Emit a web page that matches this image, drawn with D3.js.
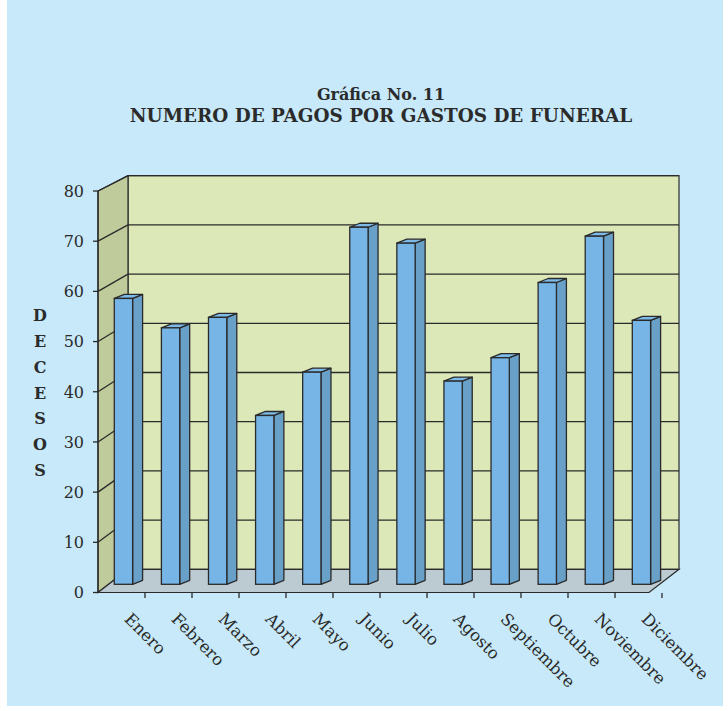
<!DOCTYPE html>
<html>
<head>
<meta charset="utf-8">
<script src="https://d3js.org/d3.v7.min.js"></script>
<style>
  body { margin: 0; background: #ffffff; }
  text { font-family: "DejaVu Serif", serif; fill: #2b2b2b; }
</style>
</head>
<body>
<script>
// datos de la grafica
var meses = ["Enero", "Febrero", "Marzo", "Abril", "Mayo", "Junio",
             "Julio", "Agosto", "Septiembre", "Octubre", "Noviembre", "Diciembre"];
var decesos = [57.4, 51.5, 53.6, 33.9, 42.6, 71.7, 68.5, 40.8, 45.5, 60.6, 69.9, 53.0];
var yTicks = [0, 10, 20, 30, 40, 50, 60, 70, 80];
var titulo1 = "Gráfica No. 11";
var titulo2 = "NUMERO DE PAGOS POR GASTOS DE FUNERAL";
var tituloEje = "DECESOS";

var width = 728, height = 711;

var svg = d3.select("body").append("svg")
  .attr("width", width)
  .attr("height", height);

svg.append("rect")
  .attr("x", 7).attr("y", 0)
  .attr("width", 716).attr("height", 706)
  .attr("fill", "#c7e9f9");

// geometria 3d
var left = 98, plotW = 551, depthX = 30;
var yFront = d3.scaleLinear().domain([0, 80]).range([592.5, 191]);
var yBack = d3.scaleLinear().domain([0, 80]).range([569.3, 175.7]);
var stroke = "#2a2a2a";

var line = d3.line();

// pared del fondo
svg.append("path")
  .attr("d", line([[left + depthX, yBack(0)], [left + depthX, yBack(80)],
                   [left + depthX + plotW, yBack(80)], [left + depthX + plotW, yBack(0)]]) + "Z")
  .attr("fill", "#dde8b9")
  .attr("stroke", stroke).attr("stroke-width", 1.2);

// pared lateral
svg.append("path")
  .attr("d", line([[left, yFront(0)], [left, yFront(80)],
                   [left + depthX, yBack(80)], [left + depthX, yBack(0)]]) + "Z")
  .attr("fill", "#c0cb9c")
  .attr("stroke", stroke).attr("stroke-width", 1.2);

// piso
svg.append("path")
  .attr("d", line([[left, yFront(0)], [left + plotW, yFront(0)],
                   [left + plotW + depthX, yBack(0)], [left + depthX, yBack(0)]]) + "Z")
  .attr("fill", "#bccad1")
  .attr("stroke", stroke).attr("stroke-width", 1.2);

// lineas de cuadricula
var grid = svg.append("g");
grid.selectAll("line.back")
  .data(yTicks.slice(1))
  .enter().append("line")
  .attr("class", "back")
  .attr("x1", left + depthX).attr("x2", left + depthX + plotW)
  .attr("y1", function(d) { return yBack(d); })
  .attr("y2", function(d) { return yBack(d); })
  .attr("stroke", stroke).attr("stroke-width", 1.3);
grid.selectAll("line.side")
  .data(yTicks.slice(1))
  .enter().append("line")
  .attr("class", "side")
  .attr("x1", left).attr("x2", left + depthX)
  .attr("y1", function(d) { return yFront(d); })
  .attr("y2", function(d) { return yBack(d); })
  .attr("stroke", stroke).attr("stroke-width", 1.3);

// eje y
svg.append("line")
  .attr("x1", left).attr("x2", left)
  .attr("y1", yFront(80)).attr("y2", yFront(0))
  .attr("stroke", stroke).attr("stroke-width", 1.3);
var yAxis = svg.append("g");
yAxis.selectAll("line")
  .data(yTicks)
  .enter().append("line")
  .attr("x1", left - 5).attr("x2", left)
  .attr("y1", function(d) { return yFront(d); })
  .attr("y2", function(d) { return yFront(d); })
  .attr("stroke", stroke).attr("stroke-width", 1.3);
yAxis.selectAll("text")
  .data(yTicks)
  .enter().append("text")
  .attr("x", 84)
  .attr("y", function(d) { return yFront(d); })
  .attr("dy", "0.36em")
  .attr("text-anchor", "end")
  .style("font-size", "16px")
  .text(function(d) { return d; });

// eje x
var xTick = d3.scaleBand().domain(meses).range([left, 662]);
var xAxis = svg.append("g");
xAxis.selectAll("line")
  .data(meses)
  .enter().append("line")
  .attr("x1", function(d) { return xTick(d) + xTick.bandwidth(); })
  .attr("x2", function(d) { return xTick(d) + xTick.bandwidth(); })
  .attr("y1", 593).attr("y2", 598)
  .attr("stroke", stroke).attr("stroke-width", 1.3);
xAxis.selectAll("text")
  .data(meses)
  .enter().append("text")
  .attr("transform", function(d) {
    return "translate(" + (xTick(d) + xTick.bandwidth() / 2 + 2) + ",620) rotate(45)";
  })
  .style("font-size", "16.5px")
  .text(function(d) { return d; });

// barras
var xBar = d3.scalePoint().domain(meses).range([114.3, 632.3]);
var yBar = d3.scaleLinear().domain([0, 80]).range([584.3, 584.3 - 80 * 4.98]);
var barW = 18.3, bdx = 10, bdy = 4;

var bars = svg.append("g").selectAll("g")
  .data(meses)
  .enter().append("g");

bars.append("path")
  .attr("d", function(d, i) {
    var x = xBar(d), t = yBar(decesos[i]), b = yBar(0);
    return line([[x + barW, b], [x + barW, t], [x + barW + bdx, t - bdy], [x + barW + bdx, b - bdy]]) + "Z";
  })
  .attr("fill", "#68a0c8")
  .attr("stroke", stroke).attr("stroke-width", 1.3).attr("stroke-linejoin", "round");

bars.append("path")
  .attr("d", function(d, i) {
    var x = xBar(d), t = yBar(decesos[i]);
    return line([[x, t], [x + barW, t], [x + barW + bdx, t - bdy], [x + bdx, t - bdy]]) + "Z";
  })
  .attr("fill", "#7dbae8")
  .attr("stroke", stroke).attr("stroke-width", 1.3).attr("stroke-linejoin", "round");

bars.append("rect")
  .attr("x", function(d) { return xBar(d); })
  .attr("y", function(d, i) { return yBar(decesos[i]); })
  .attr("width", barW)
  .attr("height", function(d, i) { return yBar(0) - yBar(decesos[i]); })
  .attr("fill", "#76b5e5")
  .attr("stroke", stroke).attr("stroke-width", 1.3);

// titulos
svg.append("text")
  .attr("x", 381).attr("y", 100)
  .attr("text-anchor", "middle")
  .style("font-size", "16px").style("font-weight", "bold")
  .text(titulo1);
svg.append("text")
  .attr("x", 381).attr("y", 122)
  .attr("text-anchor", "middle")
  .style("font-size", "18.4px").style("font-weight", "bold")
  .text(titulo2);

svg.append("g").selectAll("text")
  .data(tituloEje.split(""))
  .enter().append("text")
  .attr("x", 40)
  .attr("y", function(d, i) { return 315.7 + i * 25.7; })
  .attr("dy", "0.36em")
  .attr("text-anchor", "middle")
  .style("font-size", "16px").style("font-weight", "bold")
  .text(function(d) { return d; });
</script>
</body>
</html>
